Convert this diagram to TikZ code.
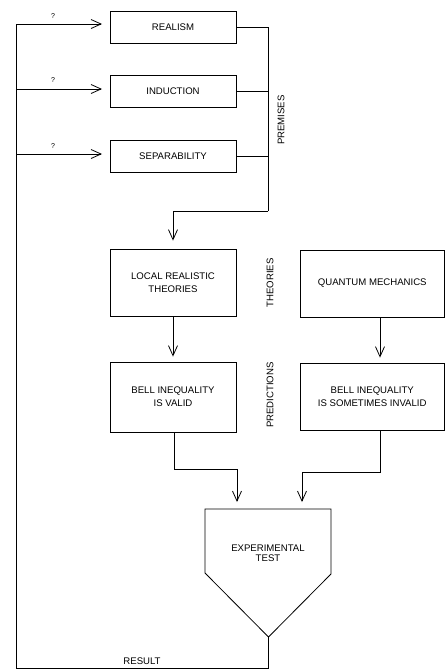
\documentclass[tikz,border=0pt]{standalone}
\usepackage{fontspec}
\setmainfont{Liberation Sans}
\usetikzlibrary{arrows.meta}
\begin{document}
\begin{tikzpicture}[x=1pt,y=-1pt,
  every path/.style={line width=0.8pt},
  box/.style={draw,line width=0.8pt,minimum width=126pt,align=center,
    font=\fontsize{9.6}{13}\selectfont,inner sep=0pt},
  lbl/.style={font=\fontsize{9.6}{10}\selectfont,inner sep=0pt},
  qlbl/.style={font=\fontsize{7}{8}\selectfont,inner sep=0pt},
  arr/.style={-{Straight Barb[length=10pt,width=9pt]}, line join=miter},
  ]
\useasboundingbox (0,0) rectangle (445,670);
% premises
\node[box,minimum height=32pt] (realism) at (173,27) {REALISM};
\node[box,minimum height=32pt] (induction) at (173,91) {INDUCTION};
\node[box,minimum height=32pt] (separab) at (173,156) {SEPARABILITY};
\coordinate (pj) at (268,211);
\coordinate (pa) at (173,211);
\draw (realism.east) -- (realism.east -| pj) -- (pj);
\draw (induction.east) -- (induction.east -| pj);
\draw (separab.east) -- (separab.east -| pj);
\node[lbl,rotate=90] (premises) at (281,120) {PREMISES};
% theories
\node[box,minimum height=67pt] (lrt) at (173,282.5) {LOCAL REALISTIC\\THEORIES};
\node[box,minimum width=144pt,minimum height=67pt] (qm) at (372.25,283.5) {QUANTUM MECHANICS};
\node[lbl,rotate=90] (theories) at (270,283) {THEORIES};
\draw[arr,shorten >=8pt] (pj) -- (pa) -- (lrt.north);
% predictions
\node[box,minimum height=70pt] (bv) at (173,397) {BELL INEQUALITY\\IS VALID};
\node[box,minimum width=144pt,minimum height=67pt] (bi) at (372.25,396.5) {BELL INEQUALITY\\IS SOMETIMES INVALID};
\node[lbl,rotate=90] (predictions) at (270,395) {PREDICTIONS};
\draw[arr,shorten >=5pt] (lrt.south) -- (bv.north);
\draw[arr,shorten >=5pt] (qm.south -| 380,0) -- (bi.north -| 380,0);
% experimental test
\coordinate (tl) at (205,509);
\coordinate (tr) at (331,509);
\coordinate (rr) at (331,574);
\coordinate (tip) at (268.5,637);
\coordinate (ll) at (205,573);
\draw[line join=miter] (tl) -- (tr) -- (rr) -- (tip) -- (ll) -- cycle;
\node[align=center,inner sep=0pt,font=\fontsize{9.6}{10.5}\selectfont] (test) at (268,553) {EXPERIMENTAL\\TEST};
\coordinate (m1) at (174,469);
\coordinate (m2) at (237,469);
\coordinate (n1) at (380,472);
\coordinate (n2) at (302,472);
\draw[arr,shorten >=7pt] (bv.south -| m1) -- (m1) -- (m2) -- (m2 |- tl);
\draw[arr,shorten >=7pt] (bi.south -| n1) -- (n1) -- (n2) -- (n2 |- tl);
% feedback
\coordinate (fbot) at (16,668);
\coordinate (rbot) at (268.5,668);
\coordinate (ftop) at (16,24);
\draw (tip) -- (rbot) -- (fbot) -- (ftop);
\node[lbl] (result) at (142,661) {RESULT};
\coordinate (f1) at (16,24);
\coordinate (f2) at (16,89);
\coordinate (f3) at (16,154);
\draw[arr] (f1) -- (102,24);
\draw[arr] (f2) -- (102,89);
\draw[arr] (f3) -- (102,154);
\node[qlbl] (q1) at (53,16) {?};
\node[qlbl] (q2) at (53,80) {?};
\node[qlbl] (q3) at (53,146) {?};
\end{tikzpicture}
\end{document}
